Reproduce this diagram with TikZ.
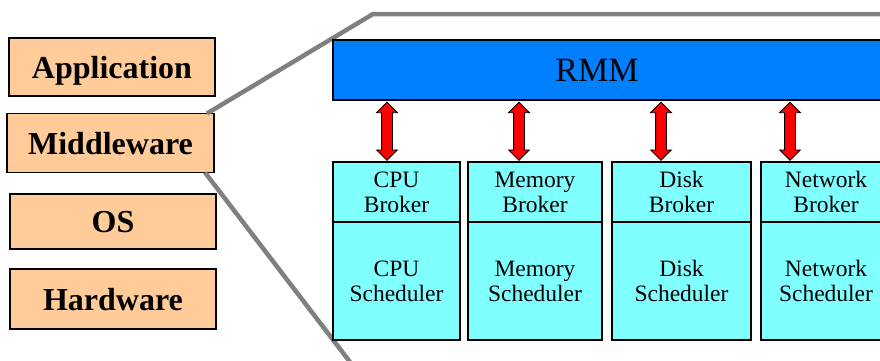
\documentclass[tikz,border=0pt]{standalone}
\usepackage{fontspec}
\setmainfont{Liberation Serif}
\usepackage{xcolor}
\usetikzlibrary{arrows.meta,calc,positioning,shapes.arrows}

\definecolor{layerpeach}{HTML}{FFCC99}
\definecolor{rmmblue}{HTML}{0080FF}
\definecolor{boxcyan}{HTML}{80FFFF}
\definecolor{zoomgrey}{HTML}{808080}

\tikzset{
	layer/.style={draw=black, line width=1.5pt, fill=layerpeach, minimum width=206pt, inner sep=0pt, outer sep=0pt,
		text depth=0pt, font=\fontsize{32}{34}\selectfont\bfseries},
	rmmbar/.style={draw=black, line width=1.2pt, fill=rmmblue, minimum width=567pt, minimum height=60pt, inner sep=0pt},
	brokerbox/.style={draw=black, line width=1.5pt, fill=boxcyan, minimum height=60pt, inner sep=0pt, outer sep=0pt,
		align=center, font=\fontsize{23.5}{25}\selectfont},
	schedbox/.style={brokerbox, minimum height=118pt},
	updown/.style={double arrow, draw=black, fill=red, line width=0.8pt, rotate=90, inner xsep=0pt, inner ysep=5pt,
		minimum height=58pt, double arrow head extend=5pt},
	zoomline/.style={draw=zoomgrey, line width=4.5pt},
}

\begin{document}
\begin{tikzpicture}[x=1pt,y=1pt]
                        \useasboundingbox (0,0) rectangle (880,360);
                        \clip (0,0) rectangle (880,360);

                        % Layer stack on the left
                        \node [layer, minimum height=58pt] (app) at (112,293) { Application };%
                        \node [layer, minimum height=59pt, minimum width=207pt] (mw) at (110.5,217) { Middleware };%
                        \node [layer, minimum height=55pt] (os) at (113,138.5) { OS };%
                        \node [layer, minimum height=60pt] (hw) at (113,61) { Hardware };%

                        % Drawing zoom lines out of Middleware
                        \coordinate (zc) at (373,346);%
                        \coordinate (ze) at (900,346);%
                        \coordinate (zb) at (350,-2);%
                        \draw [zoomline] ([xshift=-7pt]mw.north east) -- (zc) -- (ze);%
                        \draw [zoomline] ([xshift=-9pt]mw.south east) -- (zb);%

                        % Marking RMM bar
                        \node [rmmbar, label={[font=\fontsize{34}{36}\selectfont, xshift=-19.5pt]center:RMM}] (rmm) at (616.5,290) {};%

                        % Broker boxes
                        \node [brokerbox, minimum width=127pt] (cpub) at (396.5,168) { CPU\\Broker };%
                        \node [brokerbox, minimum width=134pt, right=8pt of cpub] (memb) { Memory\\Broker };%
                        \node [brokerbox, minimum width=139pt, right=10pt of memb] (diskb) { Disk\\Broker };%
                        \node [brokerbox, minimum width=130pt, right=10pt of diskb] (netb) { Network\\Broker };%

                        % Scheduler boxes
                        \node [schedbox, minimum width=127pt, below=0pt of cpub] (cpus) { CPU\\Scheduler };%
                        \node [schedbox, minimum width=134pt, below=0pt of memb] (mems) { Memory\\Scheduler };%
                        \node [schedbox, minimum width=139pt, below=0pt of diskb] (disks) { Disk\\Scheduler };%
                        \node [schedbox, minimum width=130pt, below=0pt of netb] (nets) { Network\\Scheduler };%

                        % Drawing arrows RMM <-> brokers
                        \coordinate (t1) at ([xshift=-9.5pt]cpub.north);%
                        \coordinate (t2) at ([xshift=-16pt]memb.north);%
                        \coordinate (t3) at ([xshift=-20.5pt]diskb.north);%
                        \coordinate (t4) at ([xshift=-36pt]netb.north);%
                        \foreach \t in {t1,t2,t3,t4}
                        	\path (\t) -- (\t |- rmm.south) node [midway, updown] {};%
                    \end{tikzpicture}
\end{document}
